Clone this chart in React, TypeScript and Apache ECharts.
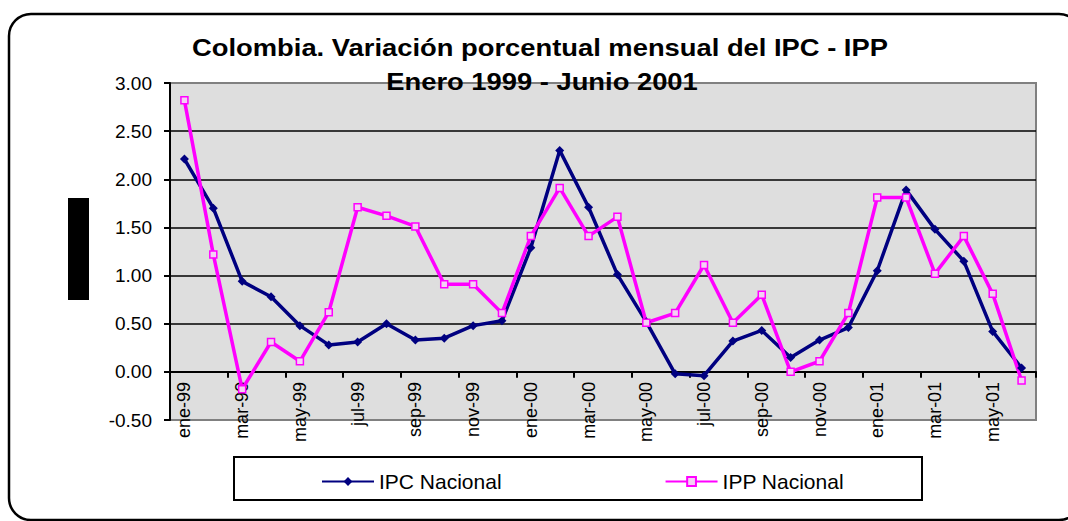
import React, { useEffect, useRef } from "react";
import * as echarts from "echarts";

const categories = [
  "ene-99", "feb-99", "mar-99", "abr-99", "may-99", "jun-99", "jul-99", "ago-99", "sep-99", "oct-99", "nov-99", "dic-99",
  "ene-00", "feb-00", "mar-00", "abr-00", "may-00", "jun-00", "jul-00", "ago-00", "sep-00", "oct-00", "nov-00", "dic-00",
  "ene-01", "feb-01", "mar-01", "abr-01", "may-01", "jun-01",
];

const ipcNacional = [
  2.21, 1.7, 0.94, 0.78, 0.48, 0.28, 0.31, 0.5, 0.33, 0.35, 0.48, 0.53,
  1.29, 2.3, 1.71, 1.01, 0.52, -0.02, -0.04, 0.32, 0.43, 0.15, 0.33, 0.46,
  1.05, 1.89, 1.48, 1.15, 0.42, 0.04,
];

const ippNacional = [
  2.82, 1.22, -0.18, 0.31, 0.11, 0.62, 1.71, 1.62, 1.51, 0.91, 0.91, 0.61,
  1.41, 1.91, 1.41, 1.61, 0.51, 0.61, 1.11, 0.51, 0.8, 0.0, 0.11, 0.61,
  1.81, 1.81, 1.02, 1.41, 0.81, -0.09,
];

const titleLine1 = "Colombia. Variación porcentual mensual del IPC - IPP";
const titleLine2 = "Enero 1999 - Junio 2001";
const yMin = -0.5;
const yMax = 3;
const yStep = 0.5;

const FONT = "'Liberation Sans', Arial, sans-serif";
const GRID_H = 337;

export default function App() {
  const ref = useRef<HTMLDivElement>(null);

  useEffect(() => {
    if (!ref.current) return;
    const chart = echarts.init(ref.current, undefined, { renderer: "svg" });
    const nLines = Math.round((yMax - yMin) / yStep) + 1;
    const splitColors = Array.from({ length: nLines }, (_, i) =>
      i === 0 || i === nLines - 1 ? "#808080" : "#000000"
    );
    const zeroOffset = -GRID_H * (0 - yMin) / (yMax - yMin);

    chart.setOption({
      animation: false,
      backgroundColor: "#ffffff",
      textStyle: { fontFamily: FONT },
      grid: {
        left: 170,
        top: 83,
        width: 866,
        height: GRID_H,
        show: true,
        backgroundColor: "#dedede",
        borderColor: "#808080",
        borderWidth: 2,
      },
      xAxis: {
        type: "category",
        data: categories,
        boundaryGap: true,
        position: "bottom",
        offset: zeroOffset,
        axisLine: { show: true, onZero: false, lineStyle: { color: "#000", width: 2 } },
        axisTick: { show: true, interval: 1, length: 6, lineStyle: { color: "#000", width: 2 } },
        axisLabel: {
          interval: 1,
          rotate: 90,
          margin: 10,
          color: "#000",
          fontSize: 18,
          fontFamily: FONT,
        },
        splitLine: { show: false },
      },
      yAxis: {
        type: "value",
        min: yMin,
        max: yMax,
        interval: yStep,
        axisLine: { show: true, onZero: false, lineStyle: { color: "#000", width: 2 } },
        axisTick: { show: true, length: 6, lineStyle: { color: "#000", width: 2 } },
        axisLabel: {
          margin: 18,
          color: "#000",
          fontSize: 19,
          fontFamily: FONT,
          formatter: (v: number) => v.toFixed(2),
        },
        splitLine: { show: true, lineStyle: { color: splitColors, width: 1.5 } },
      },
      legend: {
        left: 316,
        top: 466,
        itemWidth: 52,
        itemHeight: 11,
        itemGap: 163,
        textStyle: { fontSize: 21, color: "#000", fontFamily: FONT },
        data: ["IPC Nacional", "IPP Nacional"],
      },
      graphic: [
        {
          type: "rect",
          z: 0,
          shape: { x: 9, y: 14, width: 1072, height: 506, r: 22 },
          style: { fill: "none", stroke: "#000", lineWidth: 2.5 },
        },
        {
          type: "rect",
          z: 0,
          shape: { x: 234, y: 457, width: 688, height: 43 },
          style: { fill: "#fff", stroke: "#000", lineWidth: 2 },
        },
        {
          type: "rect",
          z: 0,
          shape: { x: 68, y: 198, width: 21, height: 102 },
          style: { fill: "#000" },
        },
        {
          type: "text",
          z: 100,
          x: 540,
          y: 48,
          scaleX: 1.14,
          style: {
            text: titleLine1,
            fontSize: 24,
            fontWeight: "bold",
            fontFamily: FONT,
            fill: "#000",
            align: "center",
            verticalAlign: "middle",
          },
        },
        {
          type: "text",
          z: 100,
          x: 542,
          y: 82,
          scaleX: 1.14,
          style: {
            text: titleLine2,
            fontSize: 24,
            fontWeight: "bold",
            fontFamily: FONT,
            fill: "#000",
            align: "center",
            verticalAlign: "middle",
          },
        },
      ],
      series: [
        {
          name: "IPC Nacional",
          type: "line",
          data: ipcNacional,
          symbol: "diamond",
          symbolSize: 9,
          showAllSymbol: true,
          lineStyle: { color: "#000080", width: 3.5 },
          itemStyle: { color: "#000080" },
        },
        {
          name: "IPP Nacional",
          type: "line",
          data: ippNacional,
          symbol: "rect",
          symbolSize: 7,
          showAllSymbol: true,
          lineStyle: { color: "#ff00ff", width: 3.5 },
          itemStyle: { color: "#f4d0f4", borderColor: "#ff00ff", borderWidth: 1.5 },
        },
      ],
    });

    return () => chart.dispose();
  }, []);

  return (
    <div
      ref={ref}
      style={{ position: "absolute", left: 0, top: 0, width: 1068, height: 521 }}
    />
  );
}
